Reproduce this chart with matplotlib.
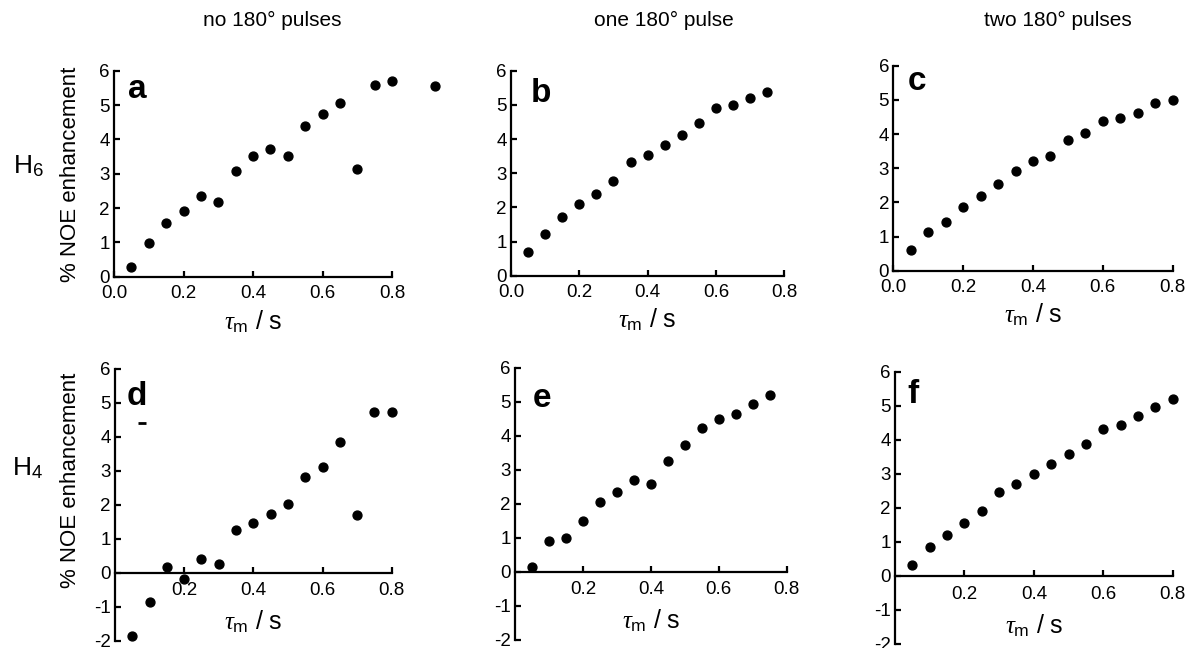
import matplotlib
matplotlib.use('Agg')
import matplotlib.pyplot as plt

plt.rcParams['font.family'] = ['Liberation Sans', 'DejaVu Sans']
plt.rcParams['mathtext.fontset'] = 'custom'
plt.rcParams['mathtext.rm'] = 'Liberation Sans'
plt.rcParams['mathtext.it'] = 'Liberation Serif:italic'
plt.rcParams['axes.unicode_minus'] = False

# mixing times (s)
tau_full = [0.05, 0.10, 0.15, 0.20, 0.25, 0.30, 0.35, 0.40,
            0.45, 0.50, 0.55, 0.60, 0.65, 0.70, 0.75, 0.80]
tau_short = tau_full[:-1]
tau_a = tau_full + [0.925]

# % NOE enhancement, H6 row
noe_a = [0.29, 0.99, 1.57, 1.92, 2.35, 2.18, 3.09, 3.53,
         3.71, 3.53, 4.39, 4.74, 5.07, 3.14, 5.59, 5.69, 5.55]
noe_b = [0.68, 1.21, 1.71, 2.09, 2.39, 2.78, 3.33, 3.54,
         3.83, 4.12, 4.47, 4.90, 5.00, 5.20, 5.39]
noe_c = [0.62, 1.13, 1.43, 1.85, 2.20, 2.54, 2.91, 3.21,
         3.35, 3.82, 4.04, 4.39, 4.48, 4.63, 4.90, 5.00]

# % NOE enhancement, H4 row
noe_d = [-1.86, -0.85, 0.17, -0.19, 0.40, 0.26, 1.26, 1.46,
         1.74, 2.02, 2.82, 3.10, 3.85, 1.70, 4.72, 4.72]
noe_e = [0.15, 0.91, 0.98, 1.49, 2.06, 2.36, 2.71, 2.57,
         3.27, 3.74, 4.22, 4.50, 4.65, 4.94, 5.19]
noe_f = [0.32, 0.84, 1.19, 1.56, 1.91, 2.46, 2.69, 2.99,
         3.28, 3.59, 3.89, 4.31, 4.44, 4.70, 4.96, 5.20]

# stray dash printed under the "d" label
stray_d_x = [0.077]
stray_d_y = [4.40]

col_titles = ['no 180\u00b0 pulses', 'one 180\u00b0 pulse', 'two 180\u00b0 pulses']
row_labels = [r'H$_6$', r'H$_4$']
panel_letters = ['a', 'b', 'c', 'd', 'e', 'f']
top_ticks = [0.0, 0.2, 0.4, 0.6, 0.8]
top_ticklabels = ['0.0', '0.2', '0.4', '0.6', '0.8']
bot_ticks = [0.2, 0.4, 0.6, 0.8]
bot_ticklabels = ['0.2', '0.4', '0.6', '0.8']
ylabel = '% NOE enhancement'
xlabel = r'$\tau_{\mathrm{m}}$ / s'

W, H = 1187, 648
fig = plt.figure(figsize=(W / 100, H / 100), dpi=100)


def px_axes(left, top, right, bottom):
    return fig.add_axes([left / W, 1 - bottom / H, (right - left) / W, (bottom - top) / H])


# axes boxes in pixels: left, top, right, bottom
boxes = [(114, 70.7, 392, 276.7), (511, 70.7, 784.3, 275.7), (893.3, 65.7, 1172.7, 270.7),
         (115, 368.7, 391.7, 640.7), (515, 368, 786.7, 639.5), (895, 371.7, 1172.7, 644)]
series = [(tau_a, noe_a), (tau_short, noe_b), (tau_full, noe_c),
          (tau_full, noe_d), (tau_short, noe_e), (tau_full, noe_f)]
letter_pos = [(0.040, 5.20), (0.058, 5.08), (0.040, 5.28),
              (0.033, 4.93), (0.052, 4.85), (0.036, 5.09)]

for i, (box, (xs, ys)) in enumerate(zip(boxes, series)):
    ax = px_axes(*box)
    top_row = i < 3
    ax.plot(xs, ys, 'o', color='black', ms=6.4, clip_on=False, zorder=3)
    ax.set_xlim(0, 0.8)
    for s in ['top', 'right']:
        ax.spines[s].set_visible(False)
    for s in ['left', 'bottom']:
        ax.spines[s].set_linewidth(1.6)
    ax.tick_params(direction='in', length=4, width=1.6, labelsize=13.5)
    ax.tick_params(axis='y', pad=3)
    if top_row:
        ax.set_ylim(0, 6)
        ax.set_yticks(range(0, 7))
        ax.set_xticks(top_ticks)
        ax.set_xticklabels(top_ticklabels)
        ax.tick_params(axis='x', pad=6)
        ax.text(0.4, -1.3, xlabel, ha='center', va='center', fontsize=18, clip_on=False)
    else:
        ax.set_ylim(-2, 6)
        ax.set_yticks(range(-2, 7))
        ax.spines['bottom'].set_position(('data', 0))
        ax.set_xticks(bot_ticks)
        ax.set_xticklabels(bot_ticklabels)
        ax.tick_params(axis='x', pad=7)
        ax.text(0.4, -1.45, xlabel, ha='center', va='center', fontsize=18, clip_on=False)
    lx, ly = letter_pos[i]
    ax.text(lx, ly, panel_letters[i], fontsize=24, fontweight='bold', ha='left', va='baseline')
    if i == 3:
        ax.plot(stray_d_x, stray_d_y, '_', color='black', ms=6, mew=2)

for j, t in enumerate(col_titles):
    fig.text([272, 664, 1058][j] / W, 1 - 20 / H, t, ha='center', va='center', fontsize=15)

fig.text(28 / W, 1 - 166 / H, row_labels[0], ha='center', va='center', fontsize=19)
fig.text(28 / W, 1 - 468 / H, row_labels[1], ha='center', va='center', fontsize=19)
fig.text(70 / W, 1 - 174 / H, ylabel, rotation=90, ha='center', va='center', fontsize=16)
fig.text(70 / W, 1 - 480 / H, ylabel, rotation=90, ha='center', va='center', fontsize=16)

fig.savefig('out.png', dpi=100)
